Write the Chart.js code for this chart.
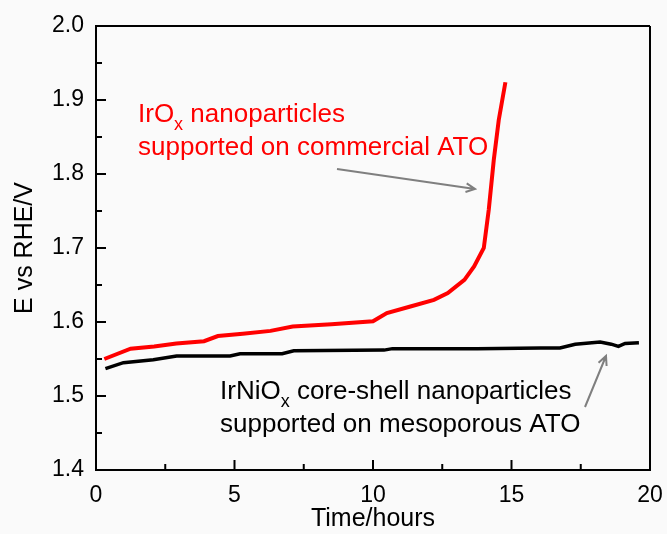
<!DOCTYPE html>
<html>
<head>
<meta charset="utf-8">
<script src="https://cdn.jsdelivr.net/npm/chart.js@4.4.1/dist/chart.umd.min.js"></script>
<style>
  html, body { margin: 0; padding: 0; background: #fafafa; }
  #wrap { width: 667px; height: 534px; }
</style>
</head>
<body>
<div id="wrap"><canvas id="chart" width="667" height="534"></canvas></div>
<script>
// red: IrOx on commercial ATO
const redTime = [0.3, 1.25, 2.1, 2.9, 3.9, 4.4, 5.3, 6.3, 7.1, 8.5, 10.0, 10.5, 11.35, 12.2, 12.7, 13.3, 13.65, 14.0, 14.18, 14.36, 14.54, 14.78];
const redE    = [1.550, 1.564, 1.567, 1.571, 1.574, 1.581, 1.584, 1.588, 1.594, 1.597, 1.601, 1.612, 1.621, 1.630, 1.639, 1.657, 1.675, 1.700, 1.752, 1.819, 1.873, 1.924];
// black: IrNiOx core-shell on mesoporous ATO
const blackTime = [0.34, 0.99, 2.07, 2.91, 4.84, 5.2, 6.72, 7.14, 10.4, 10.7, 13.76, 16.05, 16.75, 17.3, 18.2, 18.6, 18.86, 19.1, 19.6];
const blackE    = [1.537, 1.545, 1.549, 1.554, 1.554, 1.557, 1.557, 1.561, 1.562, 1.564, 1.564, 1.565, 1.565, 1.570, 1.573, 1.570, 1.567, 1.571, 1.572];

const xTicksMajor = [0, 5, 10, 15, 20];
const xTicksMinor = [2.5, 7.5, 12.5, 17.5];
const yTicksMajor = [1.4, 1.5, 1.6, 1.7, 1.8, 1.9, 2.0];
const yTicksMinor = [1.45, 1.55, 1.65, 1.75, 1.85, 1.95];

const FONT = '"Liberation Sans", Arial, sans-serif';

function toPoints(xs, ys) {
  return xs.map((x, i) => ({ x: x, y: ys[i] }));
}

// frame, inward ticks, labels and arrows
const extras = {
  id: 'extras',
  afterDraw(chart) {
    const ctx = chart.ctx;
    const a = chart.chartArea;
    const xs = chart.scales.x, ys = chart.scales.y;
    ctx.save();
    ctx.strokeStyle = '#000';
    ctx.lineWidth = 2;
    ctx.beginPath();
    ctx.moveTo(a.left, a.top); ctx.lineTo(a.right, a.top);
    ctx.moveTo(a.right, a.top); ctx.lineTo(a.right, a.bottom);
    ctx.stroke();

    ctx.beginPath();
    xTicksMajor.forEach(v => { const p = xs.getPixelForValue(v); ctx.moveTo(p, a.bottom); ctx.lineTo(p, a.bottom - 10); });
    xTicksMinor.forEach(v => { const p = xs.getPixelForValue(v); ctx.moveTo(p, a.bottom); ctx.lineTo(p, a.bottom - 6); });
    yTicksMajor.forEach(v => { const p = ys.getPixelForValue(v); ctx.moveTo(a.left, p); ctx.lineTo(a.left + 10, p); });
    yTicksMinor.forEach(v => { const p = ys.getPixelForValue(v); ctx.moveTo(a.left, p); ctx.lineTo(a.left + 6, p); });
    ctx.stroke();

    // annotations
    function subText(x, y, pre, sub, post, color) {
      ctx.fillStyle = color;
      ctx.textBaseline = 'alphabetic';
      ctx.textAlign = 'left';
      ctx.font = '26px ' + FONT;
      ctx.fillText(pre, x, y);
      let w = ctx.measureText(pre).width;
      ctx.font = '18px ' + FONT;
      ctx.fillText(sub, x + w, y + 8);
      w += ctx.measureText(sub).width;
      ctx.font = '26px ' + FONT;
      ctx.fillText(post, x + w, y);
    }
    subText(138, 122, 'IrO', 'x', ' nanoparticles', '#ff0000');
    ctx.fillText('supported on commercial ATO', 138, 155);
    subText(220, 399, 'IrNiO', 'x', ' core-shell nanoparticles', '#000000');
    ctx.fillText('supported on mesoporous ATO', 220, 432);

    function arrow(x1, y1, x2, y2) {
      ctx.strokeStyle = '#7f7f7f';
      ctx.lineWidth = 2;
      ctx.beginPath();
      ctx.moveTo(x1, y1); ctx.lineTo(x2, y2);
      const ang = Math.atan2(y2 - y1, x2 - x1);
      const L = 10, s = 0.45;
      ctx.moveTo(x2 - L * Math.cos(ang - s), y2 - L * Math.sin(ang - s));
      ctx.lineTo(x2, y2);
      ctx.lineTo(x2 - L * Math.cos(ang + s), y2 - L * Math.sin(ang + s));
      ctx.stroke();
    }
    arrow(337, 169, 475, 189);
    arrow(585, 407, 606, 356);
    ctx.restore();
  }
};

new Chart(document.getElementById('chart'), {
  type: 'line',
  data: {
    datasets: [
      { data: toPoints(blackTime, blackE), borderColor: '#000000', borderWidth: 3.5, pointRadius: 0, tension: 0, fill: false },
      { data: toPoints(redTime, redE), borderColor: '#ff0000', borderWidth: 4, pointRadius: 0, tension: 0, fill: false }
    ]
  },
  options: {
    responsive: false,
    animation: false,
    layout: { padding: { top: 26, right: 17, left: 0, bottom: 0 } },
    plugins: { legend: { display: false }, tooltip: { enabled: false } },
    scales: {
      x: {
        type: 'linear', min: 0, max: 20,
        afterFit(s) { s.height = 64; s.paddingLeft = 0; s.paddingRight = 0; },
        grid: { display: false, drawTicks: false },
        border: { display: true, color: '#000', width: 2 },
        ticks: { stepSize: 5, padding: 12, color: '#000', font: { family: FONT, size: 23 } },
        title: { display: true, text: 'Time/hours', color: '#000', padding: { top: 0, bottom: 0 }, font: { family: FONT, size: 25 } }
      },
      y: {
        type: 'linear', min: 1.4, max: 2.0,
        afterFit(s) { s.width = 96; s.paddingTop = 0; s.paddingBottom = 0; },
        grid: { display: false, drawTicks: false },
        border: { display: true, color: '#000', width: 2 },
        ticks: { stepSize: 0.1, padding: 12, color: '#000', font: { family: FONT, size: 23 },
                 callback: v => Number(v).toFixed(1) },
        title: { display: true, text: 'E vs RHE/V', color: '#000', padding: { top: 10, bottom: 0 }, font: { family: FONT, size: 25 } }
      }
    }
  },
  plugins: [extras]
});
</script>
</body>
</html>
